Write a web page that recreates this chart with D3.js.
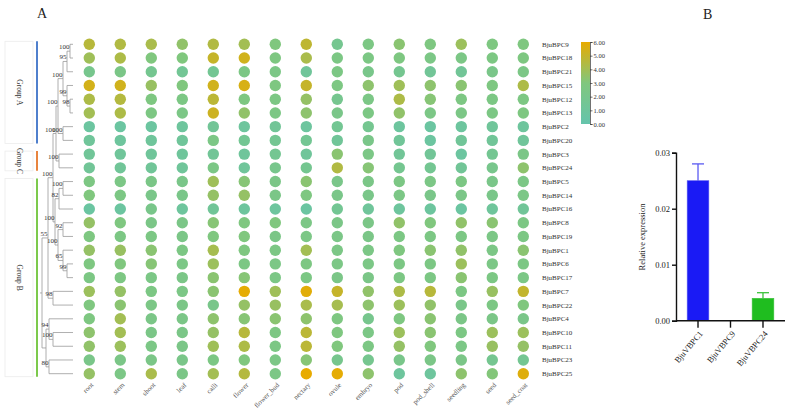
<!DOCTYPE html>
<html><head><meta charset="utf-8">
<script src="https://cdn.jsdelivr.net/npm/d3@7"></script>
<style>body{margin:0;background:#fff;} svg{display:block;font-family:"Liberation Serif","Times New Roman",serif;opacity:0.999;}</style>
</head><body><svg id="c" width="790" height="410"></svg>
<script>
// ---------- DATA ----------
const genes = ["BjuBPC9","BjuBPC18","BjuBPC21","BjuBPC15","BjuBPC12","BjuBPC13","BjuBPC2","BjuBPC20","BjuBPC3","BjuBPC24","BjuBPC5","BjuBPC14","BjuBPC16","BjuBPC8","BjuBPC19","BjuBPC1","BjuBPC6","BjuBPC17","BjuBPC7","BjuBPC22","BjuBPC4","BjuBPC10","BjuBPC11","BjuBPC23","BjuBPC25"];
const tissues = ["root","stem","shoot","leaf","calli","flower","flower_bud","nectary","ovule","embryo","pod","pod_shell","seedling","seed","seed_coat"];
// expression per tissue, in gene order
const root      = [4.6,3.9,2.0,5.4,4.3,4.0,0.8,1.2,1.3,1.4,2.7,3.0,0.7,3.6,2.8,3.6,2.8,2.6,3.8,2.9,2.8,3.4,3.5,2.3,3.6];
const stem      = [4.4,4.3,2.4,5.3,4.5,4.3,0.7,1.0,1.2,1.3,2.5,2.6,0.8,2.9,2.6,3.7,3.0,2.7,3.6,3.3,4.0,4.0,3.8,2.4,2.5];
const shoot     = [4.2,3.0,1.8,3.7,2.8,2.7,0.8,1.1,1.2,1.3,2.4,2.3,2.2,2.4,2.6,3.3,3.2,2.5,2.6,2.5,2.4,2.4,2.5,2.4,4.2];
const leaf      = [3.5,3.0,1.5,3.0,2.6,2.5,1.0,1.2,1.1,1.2,2.3,2.3,1.0,2.4,2.4,2.6,2.5,2.4,2.5,2.4,2.4,2.4,2.4,2.3,2.4];
const calli     = [4.4,5.0,1.6,5.3,4.7,5.2,1.4,2.5,1.4,2.5,3.9,3.6,1.3,3.2,2.9,4.1,3.8,3.3,3.3,2.2,3.4,3.6,3.9,2.6,4.0];
const flower    = [4.0,5.3,2.6,5.5,2.8,3.5,1.0,1.6,1.1,1.2,3.2,3.6,1.0,2.9,3.0,2.9,2.6,3.2,5.9,3.6,3.2,4.6,4.3,3.0,4.5];
const flower_bud= [3.0,2.8,2.5,2.8,2.6,2.6,1.4,1.7,1.7,2.1,2.4,2.4,1.0,3.0,2.4,2.6,2.5,2.5,3.9,3.7,3.3,2.7,2.6,2.5,2.5];
const nectary   = [4.8,4.2,1.2,5.0,3.6,3.4,0.9,1.6,1.2,1.8,3.3,2.8,0.7,2.5,2.5,4.0,2.7,2.6,5.8,4.2,3.4,4.7,4.7,3.2,6.0];
const ovule     = [1.8,2.6,2.6,2.7,1.9,2.3,1.6,1.3,3.3,4.4,2.3,2.3,1.6,2.4,2.4,2.5,2.5,2.4,5.0,4.1,2.8,2.9,3.0,2.0,5.9];
const embryo    = [2.6,2.6,2.2,3.4,2.5,2.6,1.8,2.3,2.5,3.2,2.4,2.3,1.2,2.4,2.4,2.5,2.5,2.4,3.5,3.4,2.0,2.5,2.6,1.9,3.4];
const pod       = [3.3,2.8,1.8,3.9,4.3,3.5,0.9,1.3,1.4,1.8,2.6,2.5,1.0,3.5,2.6,2.9,2.6,2.6,4.3,3.8,2.8,3.8,3.6,2.2,1.0];
const pod_shell = [2.8,2.5,1.4,3.4,3.2,2.5,0.7,0.8,1.4,1.7,2.5,2.3,0.9,3.0,2.6,3.3,2.6,2.6,4.6,3.5,3.3,3.3,3.0,2.4,1.0];
const seedling  = [3.8,2.5,1.4,3.3,2.7,2.5,0.9,1.3,0.8,1.4,2.6,2.4,0.7,3.5,2.6,3.5,3.8,3.3,2.6,2.3,2.4,2.6,2.5,2.4,3.4];
const seed      = [2.8,2.7,2.3,2.8,2.6,2.6,1.2,1.3,1.7,2.1,2.3,2.3,1.1,3.3,2.5,2.5,2.5,2.6,3.7,2.6,2.4,3.8,3.7,1.8,3.1];
const seed_coat = [2.9,2.8,2.5,4.3,2.7,2.8,1.0,1.2,2.4,3.4,2.5,2.5,1.3,2.6,2.6,3.3,2.6,2.5,4.9,3.0,2.3,3.8,3.6,1.7,5.7];
const series = [root,stem,shoot,leaf,calli,flower,flower_bud,nectary,ovule,embryo,pod,pod_shell,seedling,seed,seed_coat];
const legendTicks = [0,1,2,3,4,5,6];

// gene tree: h = node height (branch units from leaves), b = bootstrap
const L = n => ({name:n});
const treeData = {h:31, children:[
  {h:25, b:55, children:[
    {h:20, b:100, children:[
      {h:17, b:100, children:[
        {h:15, b:100, children:[
          {h:10, b:100, children:[
            {h:6, b:95, children:[{h:3, b:100, children:[L("BjuBPC9"),L("BjuBPC18")]}, L("BjuBPC21")]},
            {h:6, b:99, children:[L("BjuBPC15"), {h:3, b:98, children:[L("BjuBPC12"),L("BjuBPC13")]}]}
          ]},
          {h:10, b:100, children:[L("BjuBPC2"),L("BjuBPC20")]}
        ]},
        {h:14, b:100, children:[L("BjuBPC3"),L("BjuBPC24")]}
      ]},
      {h:18, b:100, children:[
        {h:14, b:82, children:[{h:10, b:100, children:[L("BjuBPC5"),L("BjuBPC14")]}, L("BjuBPC16")]},
        {h:15, b:100, children:[
          {h:10, b:92, children:[L("BjuBPC8"),L("BjuBPC19")]},
          {h:10, b:65, children:[L("BjuBPC1"), {h:6, b:99, children:[L("BjuBPC6"),L("BjuBPC17")]}]}
        ]}
      ]}
    ]},
    {h:20, b:98, children:[L("BjuBPC7"),L("BjuBPC22")]}
  ]},
  {h:27, children:[
    {h:24, b:94, children:[L("BjuBPC4"), {h:20, b:100, children:[L("BjuBPC10"),L("BjuBPC11")]}]},
    {h:24, b:80, children:[L("BjuBPC23"),L("BjuBPC25")]}
  ]}
]};
const groups = [
  {name:"Group A", first:"BjuBPC9",  last:"BjuBPC20", color:"#4f7fcc"},
  {name:"Group C", first:"BjuBPC3",  last:"BjuBPC24", color:"#e8843e"},
  {name:"Group B", first:"BjuBPC5",  last:"BjuBPC25", color:"#7cc94c"}
];

// qPCR panel
const qGenes = ["BjuVBPC1","BjuVBPC9","BjuVBPC24"];
const qMean  = [0.025, 0, 0.004];
const qErr   = [0.003, 0, 0.001];
const qColors = ["#1a1af5","#1a1af5","#1fbd1f"];
const qErrColors = ["#5a5af2","#5a5af2","#3cc23c"];
const qTicks = [0,0.01,0.02,0.03];

// ---------- DRAW ----------
const svg = d3.select("#c");
const color = d3.scaleLinear().domain([0,3,6]).range(["#65c4ac","#80c77e","#e8ab00"]);
const x = d3.scalePoint().domain(tissues).range([89.3, 523.3]);
const y = d3.scalePoint().domain(genes).range([44.3, 373.7]);

svg.append("text").attr("x",37).attr("y",18).attr("font-size",14).attr("fill","#222").text("A");
svg.append("text").attr("x",703).attr("y",19).attr("font-size",14).attr("fill","#222").text("B");

// dots
const cells = [];
series.forEach((vals,ti)=>vals.forEach((v,gi)=>cells.push({t:tissues[ti], g:genes[gi], v})));
svg.append("g").selectAll("circle").data(cells).join("circle")
  .attr("cx",d=>x(d.t)).attr("cy",d=>y(d.g)).attr("r",5.7).attr("fill",d=>color(d.v));

// gene labels
svg.append("g").selectAll("text").data(genes).join("text")
  .attr("x",542).attr("y",d=>y(d)).attr("dy","0.35em").attr("font-size",7).attr("fill","#333").text(d=>d);

// tissue labels
svg.append("g").selectAll("text").data(tissues).join("text")
  .attr("transform",d=>`translate(${x(d)+3},384) rotate(-45)`)
  .attr("text-anchor","end").attr("dy","0.3em").attr("font-size",7).attr("fill","#555").text(d=>d);

// colour bar
const lgY = d3.scaleLinear().domain([0,6]).range([124,42]);
const defs = svg.append("defs");
const grad = defs.append("linearGradient").attr("id","lg").attr("x1",0).attr("y1",1).attr("x2",0).attr("y2",0);
legendTicks.forEach(t=>grad.append("stop").attr("offset",t/6).attr("stop-color",color(t)));
svg.append("rect").attr("x",581).attr("y",lgY(6)).attr("width",9).attr("height",lgY(0)-lgY(6)).attr("fill","url(#lg)");
const lgAxis = svg.append("g").attr("transform","translate(590,0)")
  .call(d3.axisRight(lgY).tickValues(legendTicks).tickFormat(d3.format(".2f")).tickSize(2.5).tickPadding(1));
lgAxis.selectAll("text").attr("font-size",6.5).attr("fill","#333").attr("font-family","Liberation Serif");
lgAxis.selectAll("path,line").attr("stroke","#333").attr("stroke-width",0.7);

// tree
const xTree = d3.scaleLinear().domain([0,31]).range([73,42]);
const h = d3.hierarchy(treeData);
h.eachAfter(n=>{
  if(!n.children){ n.py = y(n.data.name); n.px = xTree(0); }
  else { n.py = (n.children[0].py + n.children[n.children.length-1].py)/2; n.px = xTree(n.data.h); }
});
const tg = svg.append("g").attr("stroke","#9a9a9a").attr("stroke-width",0.8).attr("fill","none");
h.descendants().forEach(n=>{
  if(n.children){
    tg.append("line").attr("x1",n.px).attr("x2",n.px)
      .attr("y1",n.children[0].py).attr("y2",n.children[n.children.length-1].py);
    n.children.forEach(c=>tg.append("line").attr("x1",n.px).attr("x2",c.px).attr("y1",c.py).attr("y2",c.py));
  }
});
tg.append("line").attr("x1",h.px-2).attr("x2",h.px).attr("y1",h.py).attr("y2",h.py);
svg.append("g").selectAll("text").data(h.descendants().filter(n=>n.children && n.data.b!=null)).join("text")
  .attr("x",n=>n.px-0.5).attr("y",n=>n.py-2).attr("text-anchor","end").attr("font-size",7).attr("fill","#333")
  .text(n=>n.data.b);

// groups
groups.forEach((gr,i)=>{
  const y0 = y(gr.first)-3, y1 = y(gr.last)+3;
  svg.append("line").attr("x1",37).attr("x2",37).attr("y1",y0).attr("y2",y1)
    .attr("stroke",gr.color).attr("stroke-width",2);
  svg.append("rect").attr("x",5).attr("y",y0).attr("width",28).attr("height",y1-y0)
    .attr("fill","none").attr("stroke","#ececec").attr("stroke-width",0.8);
  svg.append("text").attr("transform",`translate(17,${(y0+y1)/2}) rotate(90)`)
    .attr("text-anchor","middle").attr("font-size",7.5).attr("fill","#333").text(gr.name);
});

// ---------- panel B ----------
const qx = d3.scaleBand().domain(qGenes).range([676,785]).paddingInner(0.333).paddingOuter(0.344);
const qy = d3.scaleLinear().domain([0,0.03]).range([320.7,152.7]);
const bars = qGenes.map((g,i)=>({g, m:qMean[i], e:qErr[i], c:qColors[i], ec:qErrColors[i]}));
const eb = svg.append("g");
bars.filter(d=>d.m>0).forEach(d=>{
  const cx = qx(d.g)+qx.bandwidth()/2;
  eb.append("line").attr("x1",cx).attr("x2",cx).attr("y1",qy(d.m)).attr("y2",qy(d.m+d.e)).attr("stroke",d.ec).attr("stroke-width",1.3);
  eb.append("line").attr("x1",cx-6).attr("x2",cx+6).attr("y1",qy(d.m+d.e)).attr("y2",qy(d.m+d.e)).attr("stroke",d.ec).attr("stroke-width",1.3);
});
svg.append("g").selectAll("rect").data(bars).join("rect")
  .attr("x",d=>qx(d.g)).attr("width",qx.bandwidth()).attr("y",d=>qy(d.m)).attr("height",d=>qy(0)-qy(d.m))
  .attr("fill",d=>d.c).attr("stroke",d=>d.ec).attr("stroke-width",0.6);
const yAx = svg.append("g").attr("transform","translate(676,0)")
  .call(d3.axisLeft(qy).tickValues(qTicks).tickFormat(d3.format(".2f")).tickSize(4).tickPadding(2));
yAx.selectAll("path,line").attr("stroke","#111").attr("stroke-width",1.4);
yAx.selectAll("text").attr("font-size",8.5).attr("fill","#222").attr("font-family","Liberation Serif");
const xAx = svg.append("g").attr("transform","translate(0,320.7)")
  .call(d3.axisBottom(qx).tickSize(7).tickSizeOuter(0).tickFormat(""));
xAx.select("path").attr("d","M676,0H785");
xAx.selectAll("path,line").attr("stroke","#111").attr("stroke-width",1.4);
svg.append("g").selectAll("text").data(qGenes).join("text")
  .attr("transform",d=>`translate(${qx(d)+qx.bandwidth()/2+3},332) rotate(-50)`)
  .attr("text-anchor","end").attr("dy","0.35em").attr("font-size",8.5).attr("fill","#222").text(d=>d);
svg.append("text").attr("transform","translate(645,237) rotate(-90)").attr("text-anchor","middle")
  .attr("font-size",8.5).attr("fill","#222").text("Relative expression");
</script></body></html>
